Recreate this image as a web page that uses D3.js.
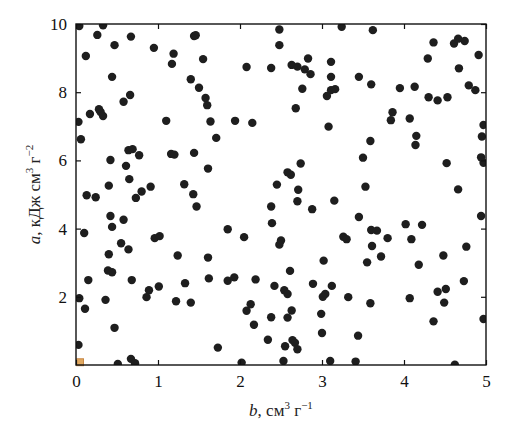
<!DOCTYPE html>
<html><head><meta charset="utf-8">
<script src="https://cdn.jsdelivr.net/npm/d3@7"></script>
<style>body{margin:0;background:#fff}svg{display:block}</style>
</head><body>
<script>
const xValues = [0.04,0.33,0.26,0.67,0.47,0.95,0.12,1.19,1.17,1.55,1.44,1.46,0.44,1.40,1.50,1.58,1.60,0.66,0.58,0.17,0.28,0.30,0.33,0.03,1.10,1.64,0.06,
2.48,2.48,3.24,2.08,2.38,2.63,2.70,2.83,2.79,2.86,3.11,3.11,3.11,3.16,3.06,2.76,2.68,1.94,2.15,3.08,1.71,
3.62,4.36,4.61,4.66,4.74,4.91,4.29,4.67,3.45,3.60,3.95,4.13,4.79,4.87,4.30,4.41,4.53,3.86,3.84,4.07,4.97,4.15,4.95,3.59,
0.42,0.64,0.69,0.77,0.61,1.16,1.20,1.44,1.61,0.65,0.40,1.32,0.91,0.80,0.73,1.43,0.13,0.24,1.47,0.42,0.44,0.58,0.10,0.96,1.02,0.55,0.64,
2.74,2.58,2.62,2.45,2.71,2.70,2.38,2.88,3.15,2.39,1.85,2.05,2.50,2.48,3.26,3.30,
4.14,3.50,4.52,4.97,4.94,3.53,4.66,3.45,4.94,4.02,4.22,3.60,3.67,3.80,4.09,3.61,4.76,
0.40,1.24,1.61,0.39,0.44,0.15,0.68,1.62,1.33,1.01,0.89,0.86,0.04,0.36,1.22,1.40,0.11,0.47,0.03,0.67,0.72,0.51,
3.02,1.85,1.93,2.19,2.61,2.42,2.54,2.58,2.89,3.12,3.04,3.01,2.13,2.08,2.63,2.58,2.38,2.17,2.99,3.00,2.34,2.64,2.67,2.70,2.55,1.73,2.53,3.10,2.02,
3.72,3.55,4.48,4.18,4.73,4.41,4.51,4.49,3.32,3.59,4.07,4.36,4.97,3.44,3.41,4.62];
const yValues = [9.94,9.96,9.68,9.63,9.38,9.30,9.06,9.13,8.83,8.97,9.65,9.67,8.45,8.38,8.13,7.83,7.62,7.92,7.72,7.36,7.50,7.42,7.30,7.13,7.16,7.14,6.62,
9.84,9.38,9.92,8.74,8.71,8.80,8.75,8.99,8.67,8.53,8.89,8.45,8.06,8.09,7.89,8.10,7.53,7.16,7.10,6.99,6.66,
9.82,9.46,9.43,9.57,9.50,9.09,8.99,8.70,8.45,8.23,8.12,8.16,8.20,8.06,7.85,7.76,7.85,7.41,7.18,7.23,7.04,6.72,6.70,6.57,
6.01,6.30,6.33,6.15,5.84,6.19,6.17,6.22,5.76,5.45,5.26,5.30,5.23,5.09,4.90,5.01,4.98,4.92,4.65,4.37,4.05,4.26,3.87,3.72,3.78,3.57,3.39,
5.91,5.65,5.58,5.29,5.14,4.80,4.65,4.57,4.82,4.16,3.98,3.75,3.65,3.53,3.76,3.69,
6.45,6.08,5.92,5.93,6.09,5.23,5.15,4.34,4.37,4.13,4.11,3.96,3.94,3.72,3.69,3.49,3.47,
3.25,3.21,3.15,2.77,2.72,2.49,2.49,2.54,2.40,2.30,2.19,1.99,1.96,1.91,1.87,1.83,1.65,1.09,0.59,0.18,0.05,0.03,
3.06,2.47,2.57,2.51,2.76,2.32,2.19,2.08,2.38,2.32,2.08,2.00,1.78,1.59,1.60,1.39,1.40,1.18,1.50,0.94,0.74,0.73,0.65,0.46,0.55,0.51,0.12,0.12,0.07,
3.18,3.01,3.21,2.94,2.46,2.15,2.23,1.83,1.99,1.81,1.96,1.28,1.35,0.86,0.10,0.01];
const markerX = [0.05];
const markerY = [0.08];
const xTicks = [0,1,2,3,4,5];
const yTicks = [2,4,6,8,10];

const W = 519, H = 431;
const m = {l:76, t:24, r:33, b:66};
const pw = W - m.l - m.r, ph = H - m.t - m.b;
const svg = d3.select("body").append("svg").attr("width", W).attr("height", H);
const x = d3.scaleLinear().domain([0,5]).range([m.l, m.l+pw]);
const y = d3.scaleLinear().domain([0,10]).range([m.t+ph, m.t]);

svg.append("clipPath").attr("id","clip").append("rect")
  .attr("x", m.l).attr("y", m.t).attr("width", pw).attr("height", ph);

const pts = xValues.map((v,i)=>({x:v, y:yValues[i]}));
svg.append("g").attr("clip-path","url(#clip)").selectAll("circle").data(pts).join("circle")
  .attr("cx", d=>x(d.x)).attr("cy", d=>y(d.y)).attr("r", 4.2).attr("fill", "#1e1e1e");

svg.append("g").selectAll("rect").data(markerX.map((v,i)=>({x:v,y:markerY[i]}))).join("rect")
  .attr("x", d=>x(d.x)-3.5).attr("y", d=>y(d.y)-3.5).attr("width",7).attr("height",7)
  .attr("fill","#e0a860").attr("stroke","#c07830").attr("stroke-width",0.8);

const font = "'Liberation Serif','Times New Roman',serif";
// axes with inward ticks
const gx = svg.append("g").attr("transform", `translate(0,${m.t+ph})`)
  .call(d3.axisBottom(x).tickValues(xTicks).tickFormat(d3.format("d")).tickSizeInner(-5).tickSizeOuter(0).tickPadding(10));
const gxt = svg.append("g").attr("transform", `translate(0,${m.t})`)
  .call(d3.axisTop(x).tickValues(xTicks).tickFormat("").tickSizeInner(-5).tickSizeOuter(0));
const gy = svg.append("g").attr("transform", `translate(${m.l},0)`)
  .call(d3.axisLeft(y).tickValues(yTicks).tickFormat(d3.format("d")).tickSizeInner(-5).tickSizeOuter(0).tickPadding(9));
const gyr = svg.append("g").attr("transform", `translate(${m.l+pw},0)`)
  .call(d3.axisRight(y).tickValues(yTicks).tickFormat("").tickSizeInner(-5).tickSizeOuter(0));
[gx,gxt,gy,gyr].forEach(g=>{
  g.select(".domain").remove();
  g.selectAll("line").attr("stroke","#111").attr("stroke-width",1.2);
  g.selectAll("text").attr("font-family",font).attr("font-size",17).attr("fill","#111");
});
svg.append("rect").attr("x",m.l).attr("y",m.t).attr("width",pw).attr("height",ph)
  .attr("fill","none").attr("stroke","#111").attr("stroke-width",1.4);

// x title
const xt = svg.append("text").attr("x", m.l+pw/2).attr("y", 416).attr("text-anchor","middle")
  .attr("font-family",font).attr("font-size",17).attr("fill","#222");
xt.append("tspan").attr("font-style","italic").text("b");
xt.append("tspan").text(", см");
xt.append("tspan").attr("font-size",11).attr("dy",-7).text("3");
xt.append("tspan").attr("dy",7).text(" г");
xt.append("tspan").attr("font-size",11).attr("dy",-7).text("−1");

// y title
const yt = svg.append("text").attr("transform", `translate(40,${m.t+ph/2}) rotate(-90)`).attr("text-anchor","middle")
  .attr("font-family",font).attr("font-size",17).attr("fill","#222");
yt.append("tspan").attr("font-style","italic").text("a");
yt.append("tspan").text(", кДж см");
yt.append("tspan").attr("font-size",11).attr("dy",-7).text("3");
yt.append("tspan").attr("dy",7).text(" г");
yt.append("tspan").attr("font-size",11).attr("dy",-7).text("−2");
</script>
</body></html>
